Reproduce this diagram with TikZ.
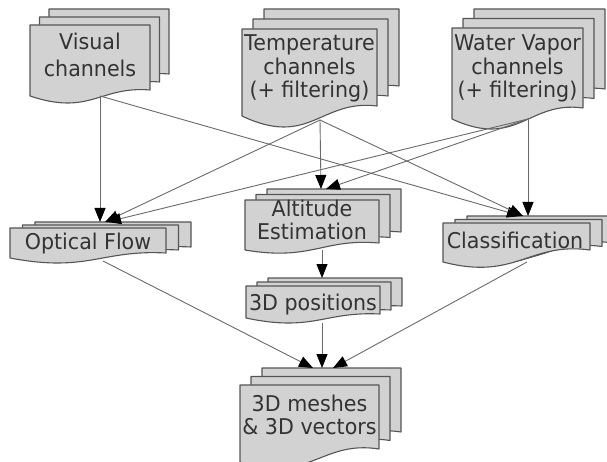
\documentclass[tikz,border=0pt]{standalone}
\usepackage{fontspec}
\setmainfont{DejaVu Sans}[FakeStretch=0.95]
\usetikzlibrary{arrows.meta}
\definecolor{sheetfill}{HTML}{D2D2D2}
\definecolor{sheetedge}{HTML}{555555}
\definecolor{txt}{HTML}{333333}
\definecolor{conn}{HTML}{6A6A6A}
\tikzset{
  sheet/.style={fill=sheetfill, draw=sheetedge, line width=1.1pt, line join=round},
  doclabel/.style={font=\fontsize{21.7}{23.5}\selectfont, text=txt, align=center, inner sep=0pt},
  flow/.style={draw=conn, line width=0.9pt, -{Triangle[length=14pt,width=11pt,color=black]}}
}
% one sheet: x1, ytop, x2, yleft-bottom, rise r ; dip in \mdd
\newcommand{\onesheet}[5]{%
  \path[sheet] (#1,#4) -- (#1,#2) -- (#3,#2) -- (#3,{#4-#5})
    .. controls ({#1+0.583*(#3-#1)},{#4-1.7*#5}) and ({#1+0.5*(#3-#1)},{#4+(64*\mdd+16.3*#5)/27}) .. (#1,#4) -- cycle;}
% stack of three sheets: x1 yt x2 yL r d dx dy
\newcommand{\mdoc}[8]{%
  \def\mdd{#6}%
  \begin{scope}[shift={({2*#7},{-2*#8})}]\onesheet{#1}{#2}{#3}{#4}{#5}\end{scope}
  \begin{scope}[shift={(#7,{-#8})}]\onesheet{#1}{#2}{#3}{#4}{#5}\end{scope}
  \onesheet{#1}{#2}{#3}{#4}{#5}}
\begin{document}
\begin{tikzpicture}[x=1pt,y=-1pt]
\useasboundingbox (0,0) rectangle (607,462);
\fill[white] (0,0) rectangle (607,462);

% sheet stacks
\mdoc{30}{25}{150}{96}{6}{7}{9.5}{8}
\mdoc{242}{29}{377}{116}{10}{11}{11}{10}
\mdoc{452}{28}{583}{119}{11}{10}{11}{9.5}
\mdoc{10}{228}{166}{258}{5}{5}{12.5}{3}
\mdoc{245}{200}{379}{250}{7}{3}{11}{5.5}
\mdoc{246}{286}{380}{318}{4}{5}{11}{4}
\mdoc{443}{223}{590}{262}{12}{5}{12}{3.5}
\mdoc{240}{385}{379}{462}{13}{6}{11}{8.5}

% labels
\node[doclabel] (vis) at (90,55) {Visual\\[3pt]channels};
\node[doclabel] (tmp) at (309.5,68.5) {Temperature\\channels\\(+ filtering)};
\node[doclabel] (wat) at (517.5,68.5) {Water Vapor\\channels\\(+ filtering)};
\node[doclabel] (opt) at (88,244) {Optical Flow};
\node[doclabel] (alt) at (312,220) {Altitude\\Estimation};
\node[doclabel] (pos) at (313,304.5) {3D positions};
\node[doclabel] (cls) at (515,240) {Classification};
\node[doclabel] (msh) at (309.5,415) {3D meshes\\\& 3D vectors};

% ports
\coordinate (visB) at (100,96);
\coordinate (tmpB) at (320,120);
\coordinate (watB) at (528,119);
\coordinate (optB) at (103,261);
\coordinate (altB) at (322,250);
\coordinate (posB) at (322,323);
\coordinate (clsB) at (527,262);
\coordinate (optT1) at (100,222);
\coordinate (optT2) at (105,222);
\coordinate (optT3) at (107,222);
\coordinate (altT1) at (321,189);
\coordinate (altT2) at (326,189);
\coordinate (clsT1) at (521,216);
\coordinate (clsT2) at (523,216);
\coordinate (clsT3) at (528,216);
\coordinate (posT) at (322,278);
\coordinate (mshT1) at (313,368);
\coordinate (mshT2) at (322,368);
\coordinate (mshT3) at (333,368);

% connectors
\draw[flow] (visB) -- (optT1);
\draw[flow] (visB) -- (clsT1);
\draw[flow] (tmpB) -- (optT2);
\draw[flow] (tmpB) -- (altT1);
\draw[flow] (tmpB) -- (clsT2);
\draw[flow] (watB) -- (optT3);
\draw[flow] (watB) -- (altT2);
\draw[flow] (watB) -- (clsT3);
\draw[flow] (optB) -- (mshT1);
\draw[flow] (altB) -- (posT);
\draw[flow] (posB) -- (mshT2);
\draw[flow] (clsB) -- (mshT3);
\end{tikzpicture}
\end{document}
